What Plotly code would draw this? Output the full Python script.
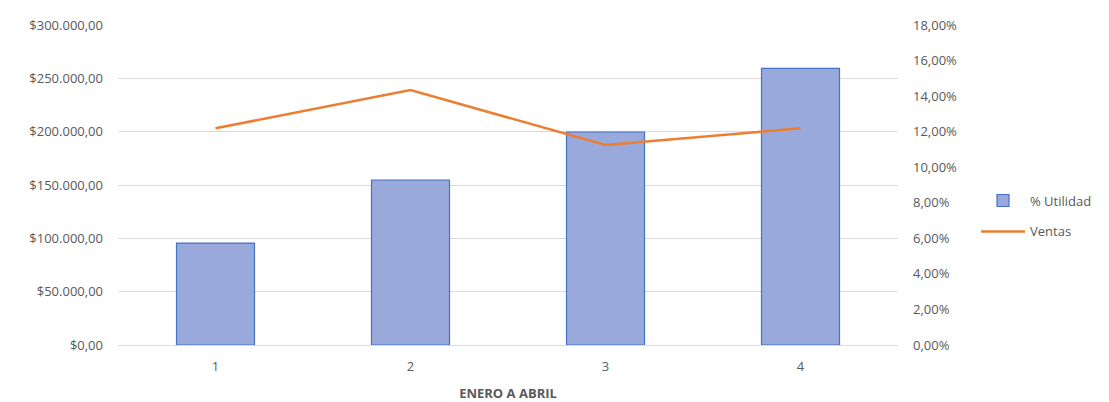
import plotly.graph_objects as go

# Monthly data, January to April
meses = ["1", "2", "3", "4"]
ventas_monto = [95600, 154700, 199700, 259400]      # bars, left axis ($)
utilidad_pct = [0.1219, 0.1434, 0.1125, 0.1219]     # line, right axis (%)

serie_barras = "% Utilidad"
serie_linea = "Ventas"
titulo_x = "ENERO A ABRIL"

texto = "#595959"
rejilla = "#d9d9d9"

fig = go.Figure()

fig.add_trace(go.Bar(
    x=meses,
    y=ventas_monto,
    name=serie_barras,
    legendgroup="barras",
    marker=dict(color="#99a9dc", line=dict(color="#4472c4", width=1.2)),
    width=0.4,
    yaxis="y",
))

fig.add_trace(go.Scatter(
    x=meses,
    y=utilidad_pct,
    name=serie_linea,
    legendgroup="linea",
    mode="lines",
    line=dict(color="#ed7d31", width=2.5),
    yaxis="y2",
))

fig.update_layout(
    width=1109,
    height=402,
    margin=dict(l=118, r=209, t=25, b=57),
    paper_bgcolor="white",
    plot_bgcolor="white",
    separators=",.",
    font=dict(family="Open Sans, Calibri, sans-serif", size=13, color=texto),
    bargap=0.6,
    showlegend=True,
    legend=dict(
        x=1.1, y=0.403, xanchor="left", yanchor="middle",
        font=dict(size=13, color=texto),
        tracegroupgap=11,
        itemwidth=44,
    ),
    xaxis=dict(
        type="category",
        automargin=False,
        showgrid=False,
        showline=False,
        ticks="",
        ticklabelstandoff=12,
        tickfont=dict(size=13, color=texto),
        title=dict(text=titulo_x, font=dict(size=13, color=texto, weight="bold"), standoff=16),
    ),
    yaxis=dict(
        range=[0, 300000],
        dtick=50000,
        automargin=False,
        tickformat="$,.2f",
        showgrid=True,
        gridcolor=rejilla,
        gridwidth=1,
        zeroline=True,
        zerolinecolor=rejilla,
        zerolinewidth=1,
        ticks="",
        ticklabelstandoff=14,
        tickfont=dict(size=13, color=texto),
    ),
    yaxis2=dict(
        range=[0, 0.18],
        dtick=0.02,
        automargin=False,
        tickformat=".2%",
        overlaying="y",
        side="right",
        showgrid=False,
        zeroline=False,
        ticks="",
        ticklabelstandoff=14,
        tickfont=dict(size=13, color=texto),
    ),
)

fig.write_html("out.html")
